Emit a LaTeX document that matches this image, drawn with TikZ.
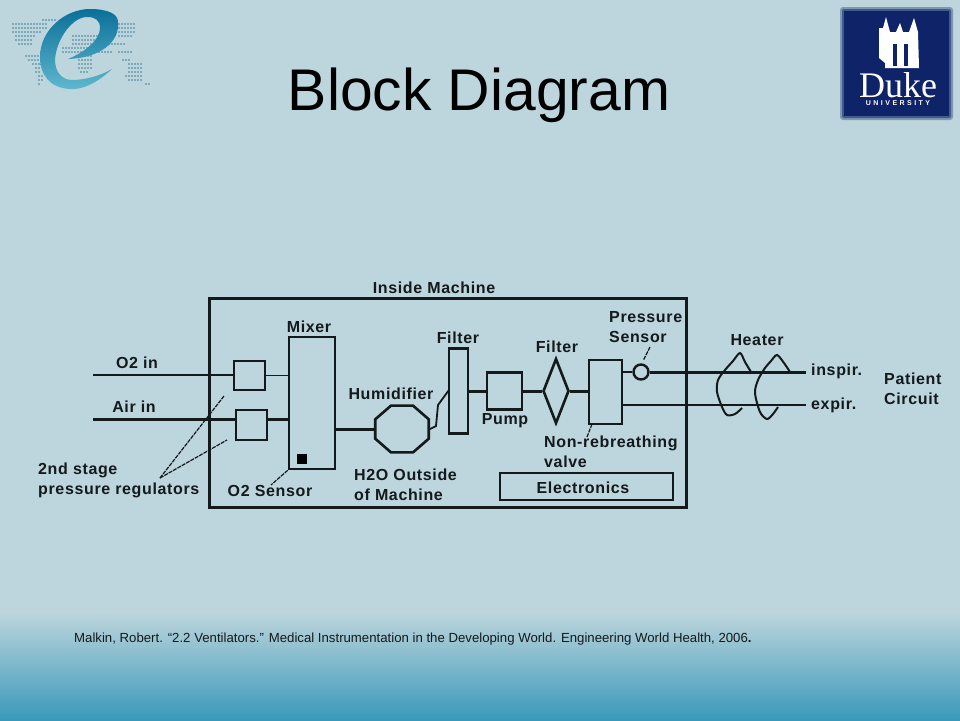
\documentclass[tikz,border=0pt]{standalone}
\usepackage{fontspec}
\setmainfont{Liberation Sans}
\newfontfamily\dukefont{Liberation Serif}
\newfontfamily\dukesmall[LetterSpace=35]{Liberation Sans}
\newfontfamily\tagfont[LetterSpace=4]{Liberation Sans}
\usetikzlibrary{shapes.geometric}
\pgfdeclarelayer{backlayer}
\pgfdeclarelayer{edgelayer}
\pgfdeclarelayer{nodelayer}
\pgfsetlayers{backlayer,edgelayer,nodelayer,main}
\definecolor{slide}{HTML}{BDD5DC}
\definecolor{slidedeep}{HTML}{3A99BA}
\definecolor{ink}{HTML}{14191C}
\definecolor{dukeblue}{HTML}{0F2468}
\definecolor{mapgrey}{HTML}{7FA9B8}
\definecolor{etop}{HTML}{0B7099}
\definecolor{ebottom}{HTML}{5FB8CE}
\tikzstyle{box}=[rectangle, draw=ink, line width=2.6pt, inner sep=0pt]
\tikzstyle{sensor}=[circle, draw=ink, line width=2.4pt, inner sep=0pt, minimum size=15pt]
\tikzstyle{tag}=[inner sep=0pt, text=ink, font=\fontsize{16}{20}\selectfont\tagfont\bfseries, align=left]
\tikzstyle{edge}=[draw=ink, line width=1.8pt]
\tikzstyle{heavyedge}=[draw=ink, line width=3pt]
\tikzstyle{leader}=[draw=ink, line width=1.2pt, dash pattern=on 4pt off 1pt]
\tikzstyle{heatcoil}=[draw=ink, line width=2pt, smooth, tension=0.5]
\tikzstyle{mapdot}=[fill=mapgrey]
\begin{document}
\begin{tikzpicture}[x=1pt, y=-1pt]
	\useasboundingbox (0,0) rectangle (960,720);
	\begin{pgfonlayer}{backlayer}
		\fill [slide] (0,0) rectangle (960,720);
		\shade [top color=slide, bottom color=slidedeep] (0,612) rectangle (960,720);
		\foreach \yy/\xa/\xb in {19/42/55, 23/12/45, 27/12/45, 23/118/135, 27/118/135, 31/12/40, 31/118/135, 35/15/35, 35/72/100, 35/118/130, 39/15/32, 39/72/105, 43/18/30, 43/72/125, 47/62/100, 51/62/110, 51/118/130, 55/25/38, 55/78/90, 59/28/40, 59/78/90, 59/122/130, 63/32/40, 63/78/90, 63/128/142, 67/35/40, 67/78/90, 67/128/142, 71/35/40, 71/80/88, 71/128/142, 75/38/42, 75/125/142, 79/38/42, 79/128/140, 83/38/40, 83/145/148}{
			\foreach \xx in {\xa,...,\xb}{
				\pgfmathparse{int(mod(\xx-\xa,3))}
				\ifnum\pgfmathresult=0 \fill [style=mapdot] (\xx,\yy) rectangle ++(1.8,1.8); \fi
			}
		}
		\shade [top color=etop, bottom color=ebottom] (112,69) .. controls (95,85) and (80,90) .. (70,89) .. controls (50,88) and (40,75) .. (40,57) .. controls (40,30) and (65,9) .. (90,9) .. controls (108,9) and (118,14) .. (118,22) .. controls (120,42) and (100,58) .. (68,59) .. controls (85,52) and (100,40) .. (100,28) .. controls (100,20) and (95,17) .. (87,17) .. controls (72,17) and (56,40) .. (55,60) .. controls (55,72) and (62,80) .. (72,80) .. controls (85,80) and (100,76) .. (112,69) -- cycle;
		\fill [dukeblue!35!slide, rounded corners=3pt] (840,7) rectangle (953,120);
		\fill [dukeblue!70!slide, rounded corners=2pt] (842,9) rectangle (951,118);
		\fill [dukeblue] (844,11) rectangle (949,116);
		\fill [white] (879,58) -- (879,28) -- (883,28) -- (886,17) -- (890,32) -- (896,32) -- (900,23) -- (903,32) -- (909,32) -- (914,18) -- (918,32) -- (919,68) -- (885,68) -- (885,63) -- cycle;
		\fill [dukeblue] (893,44) rectangle (897,66);
		\fill [dukeblue] (904,44) rectangle (908,66);
	\end{pgfonlayer}
	\begin{pgfonlayer}{nodelayer}
		\node [inner sep=0pt, anchor=base, text=white, font=\fontsize{36}{36}\selectfont\dukefont] (duke) at (898,97) {Duke};
		\node [inner sep=0pt, text=white, font=\fontsize{7}{8}\selectfont\bfseries\dukesmall] (university) at (898,103.5) {UNIVERSITY};
		\node [inner sep=0pt, text=black, font=\fontsize{58.8}{60}\selectfont] (title) at (479,95) {Block Diagram};
		\node [inner sep=0pt, anchor=west, text=ink, font=\fontsize{13.2}{15}\selectfont] (source) at (74,639) {Malkin, Robert. “2.2 Ventilators.” Medical Instrumentation in the Developing World. Engineering World Health, 2006{\bfseries .}};

		\node [style=box, line width=3pt, minimum width=477pt, minimum height=209pt] (machine) at (447.5,402.5) {};
		\node [style=box, minimum width=31pt, minimum height=29pt] (reg1) at (249.5,375.5) {};
		\node [style=box, minimum width=31pt, minimum height=30pt] (reg2) at (251.5,425) {};
		\node [style=box, minimum width=46pt, minimum height=132pt] (mixer) at (312,403) {};
		\node [rectangle, fill=black, inner sep=0pt, minimum size=10pt] (o2block) at (302,459) {};
		\node [style=box, regular polygon, regular polygon sides=8, minimum size=58pt, yscale=0.87, transform shape] (humid) at (402,429) {};
		\node [style=box, minimum width=19pt, minimum height=85pt] (filter1) at (458.5,391) {};
		\node [style=box, minimum width=35pt, minimum height=37pt] (pump) at (504.5,391) {};
		\node [style=box, diamond, minimum width=26pt, minimum height=65pt] (filter2) at (556,391) {};
		\node [style=box, minimum width=33pt, minimum height=64pt] (valve) at (605.5,392) {};
		\node [style=sensor] (psensor) at (641,372) {};
		\node [style=box, minimum width=173pt, minimum height=27pt] (elec) at (586.5,486.5) {};

		\node [style=tag] (insidelabel) at (434,288) {Inside Machine};
		\node [style=tag] (o2label) at (137,363) {O2 in};
		\node [style=tag] (airlabel) at (134,407) {Air in};
		\node [style=tag, anchor=west] (reglabel) at (38,480) {2nd stage\\pressure regulators};
		\node [style=tag] (mixerlabel) at (309,327) {Mixer};
		\node [style=tag] (sensorlabel) at (270,491) {O2 Sensor};
		\node [style=tag] (humidlabel) at (391,394) {Humidifier};
		\node [style=tag, anchor=west] (waterlabel) at (354,485) {H2O Outside\\of Machine};
		\node [style=tag] (filterlabel1) at (458,338) {Filter};
		\node [style=tag] (pumplabel) at (505,421) {Pump};
		\node [style=tag] (filterlabel2) at (557,347) {Filter};
		\node [style=tag, anchor=west] (valvelabel) at (544,452) {Non-rebreathing\\valve};
		\node [style=tag, anchor=west] (pressurelabel) at (609,327.5) {Pressure\\Sensor};
		\node [style=tag] (eleclabel) at (583,488) {Electronics};
		\node [style=tag] (heaterlabel) at (757,340) {Heater};
		\node [style=tag, anchor=west] (inspirlabel) at (811,371) {inspir.};
		\node [style=tag, anchor=west] (expirlabel) at (811,405) {expir.};
		\node [style=tag, anchor=west] (patientlabel) at (884,389) {Patient\\Circuit};
	\end{pgfonlayer}
	\begin{pgfonlayer}{edgelayer}
		\coordinate (o2in) at (93,375);
		\coordinate (airin) at (93,419);
		\coordinate (inspir) at (806,372);
		\coordinate (expir) at (806,405);
		\coordinate (regfoot) at (160,478);
		\coordinate (regtip1) at (224,396);
		\coordinate (regtip2) at (227,440);
		\draw [style=edge] (o2in) to (o2in -| reg1.west);
		\draw [style=edge] (reg1.east) to (reg1.east -| mixer.west);
		\draw [style=heavyedge] (airin) to (airin -| reg2.west);
		\draw [style=heavyedge] (airin -| reg2.east) to (airin -| mixer.west);
		\draw [style=heavyedge] (mixer.east |- humid.center) to (humid.west);
		\draw [style=edge] (humid.east) to (436,426) to (438,405) to (449,390);
		\draw [style=heavyedge] (filter1.east) to (pump.west);
		\draw [style=heavyedge] (pump.east) to (filter2.west);
		\draw [style=heavyedge] (filter2.east) to (filter2.east -| valve.west);
		\draw [style=edge] (valve.east |- psensor) to (psensor.west);
		\draw [style=heavyedge] (psensor.east) to (inspir);
		\draw [style=edge] (valve.east |- expir) to (expir);
		\draw [style=leader] (regfoot) to (regtip1);
		\draw [style=leader] (regfoot) to (regtip2);
		\draw [style=leader] (mixer.south west) to (271,485);
		\draw [style=leader] (592,424) to (587,437);
		\draw [style=leader] (650,347) to (643.5,360);
		\draw [style=heatcoil] plot coordinates {(751,372) (745,362) (740,353) (733,361) (725,370) (718,380) (717,392) (722,407) (727,415) (735,414) (742,408)};
		\draw [style=heatcoil] plot coordinates {(790,372) (784,363) (777,355) (771,361) (765,368) (758,380) (755,393) (760,412) (767,419) (773,414) (778,407)};
	\end{pgfonlayer}
\end{tikzpicture}
\end{document}
